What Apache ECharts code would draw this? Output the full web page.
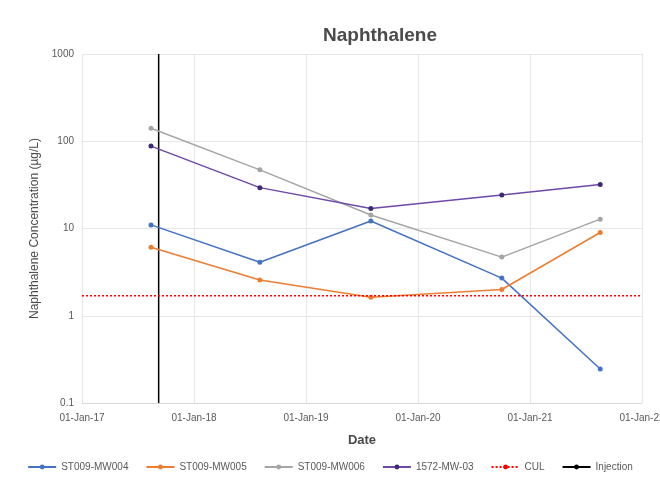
<!DOCTYPE html>
<html><head><meta charset="utf-8">
<script src="https://cdn.jsdelivr.net/npm/echarts@6/dist/echarts.min.js"></script>
<style>html,body{margin:0;padding:0;background:#fff;overflow:hidden}#c{width:660px;height:477px}</style>
</head><body><div id="c"></div>
<script>
var sampleDates = ['2017-08-14','2018-08-04','2019-08-01','2020-10-01','2021-08-18'];
var mw004 = [11, 4.1, 12.2, 2.7, 0.245];
var mw005 = [6.1, 2.57, 1.63, 2.0, 9.0];
var mw006 = [141, 47, 14.3, 4.7, 12.8];
var mw03 = [88, 29.4, 17.0, 24.2, 32];
var culValue = 1.7;
var culDates = ['2017-01-01','2022-01-01'];
var injectionDate = '2017-09-08';
var injectionRange = [0.1, 1000];
var yTicks = [0.1, 1, 10, 100, 1000];

function ts(s){var p=s.split('-');return Date.UTC(+p[0],+p[1]-1,+p[2]);}
var MON=['Jan','Feb','Mar','Apr','May','Jun','Jul','Aug','Sep','Oct','Nov','Dec'];
function fmt(v){var d=new Date(Math.floor(v/864e5+1e-6)*864e5);var dd=('0'+d.getUTCDate()).slice(-2);return dd+'-'+MON[d.getUTCMonth()]+'-'+String(d.getUTCFullYear()).slice(-2);}
function pairs(vals){return sampleDates.map(function(d,i){return [ts(d),vals[i]];});}
var xMin = ts('2017-01-01');
var yearMs = 365.25*864e5;
var font = '"Liberation Sans", Arial, sans-serif';
function lineSeries(name, vals, color, mcolor){
  return {name:name,type:'line',data:pairs(vals),symbol:'circle',symbolSize:5,
    itemStyle:{color:mcolor||color},lineStyle:{color:color,width:1.5},z:3};
}
var chart = echarts.init(document.getElementById('c'));
chart.setOption({
  animation:false,
  textStyle:{fontFamily:font},
  title:{text:'Naphthalene',left:375,top:21,textAlign:'center',
    textStyle:{fontSize:19,fontWeight:'bold',color:'#4a4a4a',fontFamily:font}},
  grid:{left:82,right:18,top:54,bottom:74,outerBoundsMode:'none',containLabel:false},
  xAxis:{type:'value',min:xMin,max:xMin+5*yearMs,interval:yearMs,
    name:'Date',nameLocation:'middle',nameGap:31,
    nameTextStyle:{fontSize:13,fontWeight:'bold',color:'#4a4a4a'},
    axisLine:{show:true,lineStyle:{color:'#d9d9d9'}},axisTick:{show:false},
    axisLabel:{formatter:fmt,color:'#595959',fontSize:10,margin:10},
    splitLine:{show:true,lineStyle:{color:'#e6e6e6'}}},
  yAxis:{type:'log',logBase:10,min:0.1,max:1000,
    name:'Naphthalene Concentration (µg/L)',nameLocation:'middle',nameGap:38,
    nameTextStyle:{fontSize:12,color:'#4a4a4a'},
    axisLine:{show:false},axisTick:{show:false},
    axisLabel:{color:'#595959',fontSize:10,formatter:function(v){
      for(var i=0;i<yTicks.length;i++){if(Math.abs(v-yTicks[i])<yTicks[i]*1e-6)return String(yTicks[i]);}return '';}},
    splitLine:{show:true,lineStyle:{color:'#e6e6e6'}}},
  legend:{bottom:0,left:'center',itemGap:17,itemWidth:28,itemHeight:6,
    textStyle:{fontSize:10,color:'#595959'},
    data:['ST009-MW004','ST009-MW005','ST009-MW006','1572-MW-03','CUL','Injection']},
  series:[
    lineSeries('ST009-MW004',mw004,'#4472C4'),
    lineSeries('ST009-MW005',mw005,'#ED7D31'),
    lineSeries('ST009-MW006',mw006,'#A5A5A5'),
    lineSeries('1572-MW-03',mw03,'#7048A8','#3D2A78'),
    {name:'CUL',type:'line',data:culDates.map(function(d){return [ts(d),culValue];}),
      symbol:'none',lineStyle:{color:'#FF0000',width:1.5,type:[2,2]},itemStyle:{color:'#FF0000'},z:4},
    {name:'Injection',type:'line',data:injectionRange.map(function(v){return [ts(injectionDate),v];}),
      symbol:'none',lineStyle:{color:'#000000',width:1.5},itemStyle:{color:'#000000'},z:2}
  ]
});
</script></body></html>
